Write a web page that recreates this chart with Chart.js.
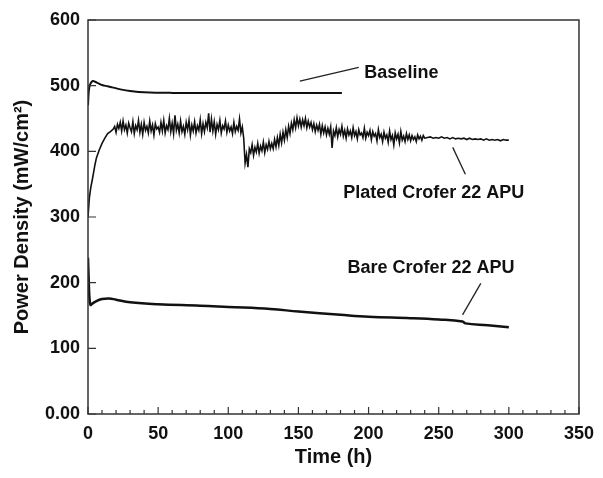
<!DOCTYPE html>
<html>
<head>
<meta charset="utf-8">
<script src="https://cdn.jsdelivr.net/npm/chart.js@4.4.1/dist/chart.umd.min.js"></script>
<style>
  html, body { margin: 0; padding: 0; background: #fff; }
  #wrap { width: 603px; height: 478px; }
</style>
</head>
<body>
<div id="wrap"><canvas id="myChart"></canvas></div>
<script>
// axis ticks
const xTicks = [0, 50, 100, 150, 200, 250, 300, 350];
const xMinorTicks = [10, 20, 30, 40, 60, 70, 80, 90, 110, 120, 130, 140, 160, 170, 180, 190,
    210, 220, 230, 240, 260, 270, 280, 290, 310, 320, 330, 340];
const yTicks = [0, 100, 200, 300, 400, 500, 600];

// Baseline
const baselineTime = [0, 0.5, 1, 2, 3.5, 5, 7, 10, 14, 18, 24, 30, 40, 60, 90, 120, 150, 181];
const baselinePower = [470, 490, 498, 504, 507, 506, 504, 501, 499, 497, 494, 492, 490, 489, 489, 489, 489, 489];

// Plated Crofer 22 APU
const platedTime = [0, 1, 2, 3, 4, 5, 6, 7, 8, 10, 12, 14, 16,
    18, 19, 20, 21, 22, 23, 24, 25, 26, 27, 28, 29, 30,
    31, 32, 33, 34, 35, 36, 37, 38, 39, 40, 41, 42, 43, 44, 45, 46, 47, 48, 49, 50,
    51, 52, 53, 54, 55, 56, 57, 58, 59, 60, 61, 62, 63, 64, 65, 66, 67, 68, 69, 70,
    71, 72, 73, 74, 75, 76, 77, 78, 79, 80, 81, 82, 83, 84, 85, 86, 87, 88, 89, 90,
    91, 92, 93, 94, 95, 96, 97, 98, 99, 100, 101, 102, 103, 104, 105, 106, 107, 108, 109, 110,
    111, 112, 113, 114, 115, 116, 117, 118, 119, 120, 121, 122, 123, 124, 125, 126, 127, 128, 129, 130,
    131, 132, 133, 134, 135, 136, 137, 138, 139, 140, 141, 142, 143, 144, 145, 146, 147, 148, 149, 150,
    151, 152, 153, 154, 155, 156, 157, 158, 159, 160, 161, 162, 163, 164, 165, 166, 167, 168, 169, 170,
    171, 172, 173, 174, 175, 176, 177, 178, 179, 180, 181, 182, 183, 184, 185, 186, 187, 188, 189, 190,
    191, 192, 193, 194, 195, 196, 197, 198, 199, 200, 201, 202, 203, 204, 205, 206, 207, 208, 209, 210,
    211, 212, 213, 214, 215, 216, 217, 218, 219, 220, 221, 222, 223, 224, 225, 226, 227, 228, 229, 230,
    231, 232, 233, 234, 235, 236, 237, 238, 239, 240,
    242, 244, 246, 248, 250, 252, 254, 256, 258, 260, 262, 264, 266, 268, 270,
    272, 274, 276, 278, 280, 282, 284, 286, 288, 290, 292, 294, 296, 298, 300];
const platedPower = [300, 330, 345, 356, 368, 380, 390, 396, 402, 412, 420, 427, 430,
    434, 438, 429, 441, 435, 444, 431, 446, 433, 440, 428, 443, 436,
    430, 445, 427, 439, 433, 447, 429, 441, 426, 444, 432, 438, 428, 446, 431, 440, 425, 442, 434, 437,
    429, 444, 431, 447, 428, 439, 433, 450, 430, 443, 427, 455, 432, 441, 428, 446, 430, 438, 426, 444,
    433, 447, 425, 440, 431, 445, 428, 439, 432, 448, 427, 442, 430, 444, 436, 458, 429, 449, 431, 445,
    426, 441, 433, 447, 428, 439, 434, 446, 429, 440, 431, 437, 427, 444, 430, 438, 432, 449, 428, 437,
    420, 382, 395, 376, 404, 398, 410, 394, 406, 399, 412, 397, 408, 401, 414, 398, 410, 403, 415, 404,
    412, 404, 418, 407, 421, 409, 426, 413, 429, 417, 433, 421, 438, 427, 443, 433, 448, 436, 451, 439,
    449, 437, 448, 439, 450, 436, 446, 437, 444, 433, 442, 430, 440, 432, 441, 426, 439, 428, 437, 425,
    435, 426, 437, 405, 431, 424, 436, 422, 433, 426, 438, 423, 432, 420, 434, 425, 431, 421, 436, 424,
    430, 419, 433, 425, 428, 421, 435, 420, 429, 424, 432, 418, 430, 423, 427, 416, 433, 421, 426, 415,
    429, 420, 425, 414, 431, 418, 424, 410, 428, 419, 426, 413, 430, 417, 423, 415, 427, 418, 425, 416,
    424, 418, 422, 415, 425, 419, 423, 417, 424, 420,
    421, 422, 420, 421, 420, 422, 420, 421, 419, 421, 419, 420, 419, 420, 418,
    420, 418, 419, 418, 419, 417, 419, 417, 418, 417, 418, 416, 418, 417, 417];

// Bare Crofer 22 APU
const bareTime = [0, 0.5, 1, 1.8, 3, 6, 10, 15, 20, 30, 50, 80, 100, 130, 150, 180, 200, 230, 250, 267, 269, 285, 300];
const barePower = [238, 205, 178, 166, 168, 172, 175, 176, 174, 170, 167, 165, 163, 160, 156, 151, 148, 146, 144, 141, 138, 135, 132];

// annotation texts, placed in data units
const labels = [
    { text: 'Baseline', x: 197, y: 520, line: [151, 507, 193, 528] },
    { text: 'Plated Crofer 22 APU', x: 182, y: 336, line: [260, 406, 269, 365] },
    { text: 'Bare Crofer 22 APU', x: 185, y: 222, line: [280, 199, 267, 151] }
];

function toPoints(xs, ys) {
    return xs.map((x, i) => ({ x: x, y: ys[i] }));
}

const boldFont = 'Liberation Sans, Arial, sans-serif';

const framePlugin = {
    id: 'frame',
    afterDraw(chart) {
        const ctx = chart.ctx;
        const area = chart.chartArea;
        const xs = chart.scales.x;
        const ys = chart.scales.y;
        ctx.save();
        ctx.strokeStyle = '#333';
        ctx.lineWidth = 1.5;
        ctx.strokeRect(area.left, area.top, area.right - area.left, area.bottom - area.top);

        // inward ticks
        ctx.lineWidth = 1.2;
        ctx.beginPath();
        xTicks.forEach(v => {
            const px = xs.getPixelForValue(v);
            ctx.moveTo(px, area.bottom);
            ctx.lineTo(px, area.bottom - 7);
        });
        xMinorTicks.forEach(v => {
            const px = xs.getPixelForValue(v);
            ctx.moveTo(px, area.bottom);
            ctx.lineTo(px, area.bottom - 4);
        });
        yTicks.forEach(v => {
            const py = ys.getPixelForValue(v);
            ctx.moveTo(area.left, py);
            ctx.lineTo(area.left + 8, py);
        });
        ctx.stroke();

        // annotations
        ctx.fillStyle = '#111';
        ctx.font = 'bold 18px ' + boldFont;
        ctx.textBaseline = 'middle';
        ctx.textAlign = 'left';
        ctx.lineWidth = 1.3;
        ctx.strokeStyle = '#222';
        labels.forEach(l => {
            ctx.fillText(l.text, xs.getPixelForValue(l.x), ys.getPixelForValue(l.y));
            ctx.beginPath();
            ctx.moveTo(xs.getPixelForValue(l.line[0]), ys.getPixelForValue(l.line[1]));
            ctx.lineTo(xs.getPixelForValue(l.line[2]), ys.getPixelForValue(l.line[3]));
            ctx.stroke();
        });
        ctx.restore();
    }
};

const ctx = document.getElementById('myChart').getContext('2d');
const myChart = new Chart(ctx, {
    type: 'line',
    data: {
        datasets: [
            {
                label: 'Baseline',
                data: toPoints(baselineTime, baselinePower),
                borderColor: '#111',
                borderWidth: 2,
                pointRadius: 0,
                tension: 0.4
            },
            {
                label: 'Plated Crofer 22 APU',
                data: toPoints(platedTime, platedPower),
                borderColor: '#111',
                borderWidth: 1.6,
                pointRadius: 0,
                tension: 0
            },
            {
                label: 'Bare Crofer 22 APU',
                data: toPoints(bareTime, barePower),
                borderColor: '#111',
                borderWidth: 2.5,
                pointRadius: 0,
                tension: 0.4
            }
        ]
    },
    options: {
        responsive: true,
        maintainAspectRatio: false,
        animation: false,
        layout: { padding: { top: 20, right: 18, left: 0, bottom: 0 } },
        plugins: {
            legend: { display: false },
            tooltip: { enabled: false }
        },
        scales: {
            x: {
                type: 'linear',
                min: 0,
                max: 350,
                grid: { display: false, drawTicks: false },
                border: { display: false },
                afterFit: function(scale) { scale.height = 64; },
                afterBuildTicks: function(scale) {
                    scale.ticks = xTicks.map(v => ({ value: v }));
                },
                ticks: {
                    color: '#111',
                    padding: 9,
                    maxRotation: 0,
                    font: { family: boldFont, size: 18, weight: 'bold' }
                },
                title: {
                    display: true,
                    text: 'Time (h)',
                    color: '#111',
                    padding: { top: 0, bottom: 9 },
                    font: { family: boldFont, size: 20, weight: 'bold' }
                }
            },
            y: {
                min: 0,
                max: 600,
                grid: { display: false, drawTicks: false },
                border: { display: false },
                afterFit: function(scale) { scale.width = 88; },
                afterBuildTicks: function(scale) {
                    scale.ticks = yTicks.map(v => ({ value: v }));
                },
                ticks: {
                    color: '#111',
                    padding: 8,
                    font: { family: boldFont, size: 18, weight: 'bold' },
                    callback: function(value) {
                        return value === 0 ? '0.00' : String(value);
                    }
                },
                title: {
                    display: true,
                    text: 'Power Density (mW/cm²)',
                    color: '#111',
                    padding: { top: 10, bottom: 0 },
                    font: { family: boldFont, size: 20, weight: 'bold' }
                }
            }
        }
    },
    plugins: [framePlugin]
});
</script>
</body>
</html>
